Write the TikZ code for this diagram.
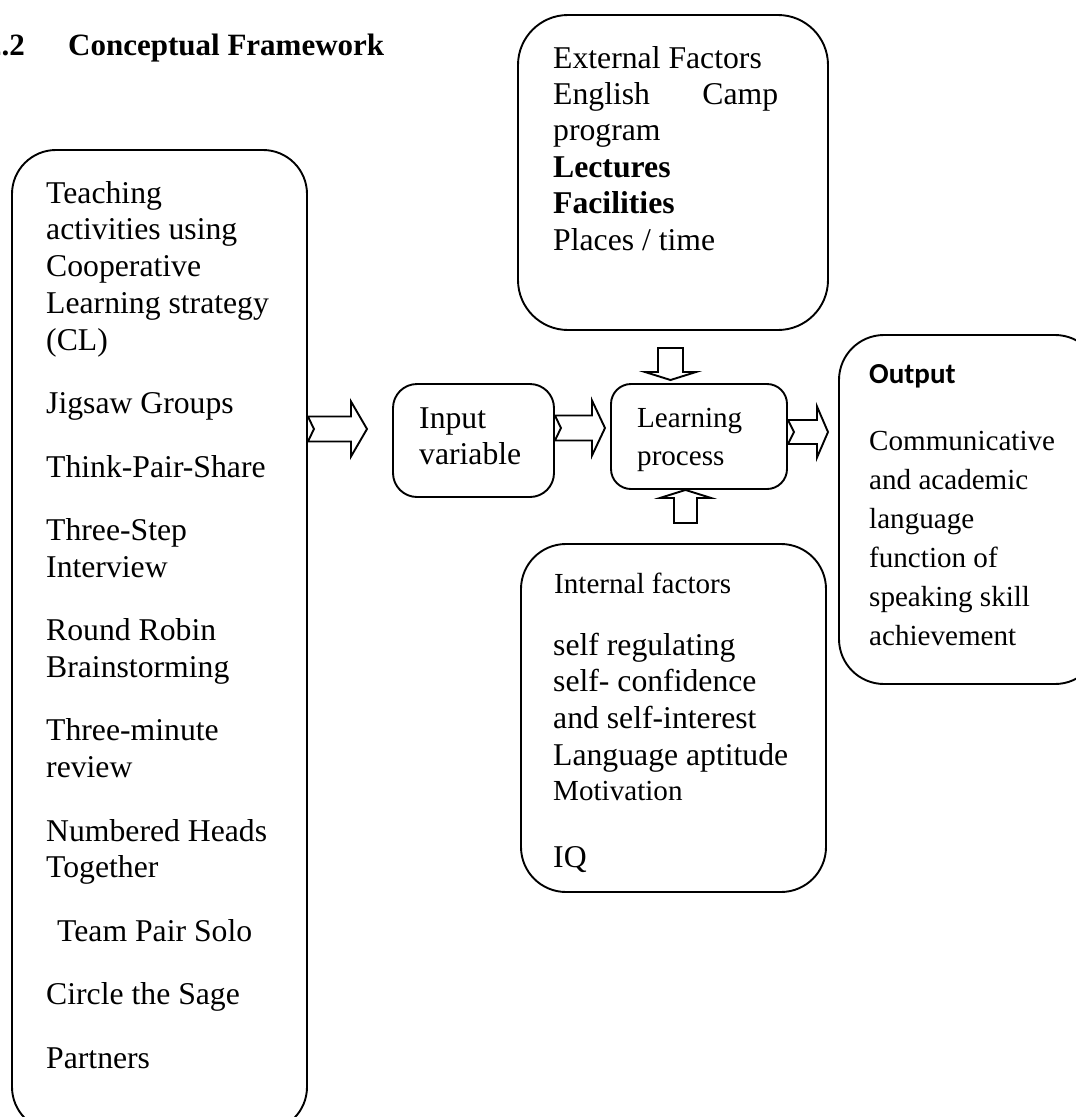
\documentclass[tikz,border=0pt]{standalone}
\usepackage{fontspec}
\setmainfont{Liberation Serif}
\newfontfamily\calfont{Carlito}
\usetikzlibrary{calc}
\tikzset{
  frame/.style={draw, line width=1.9pt, rectangle, inner sep=0pt},
  txt/.style={anchor=base west, inner sep=0pt, align=left, font=\fontsize{31.7}{36.8}\selectfont},
  smalltxt/.style={anchor=base west, inner sep=0pt, align=left, font=\fontsize{29.1}{38}\selectfont},
  titletxt/.style={anchor=base west, inner sep=0pt, font=\fontsize{31}{36}\selectfont\bfseries},
  barrow/.style={draw, line width=1.9pt, line join=miter, fill=white},
}
\newcommand{\hblockarrow}[5]{%
  \draw[barrow] ($(#1)+(0,-#3)$) -- ($(#2)+(-#5,-#3)$) -- ($(#2)+(-#5,-#4)$) -- (#2)
    -- ($(#2)+(-#5,#4)$) -- ($(#2)+(-#5,#3)$) -- ($(#1)+(0,#3)$) -- ($(#1)+(6,0)$) -- cycle;}
\newcommand{\vblockarrow}[5]{%
  \draw[barrow] ($(#1)+(-#3,0)$) -- ($(#2)+(-#3,#5)$) -- ($(#2)+(-#4,#5)$) -- (#2)
    -- ($(#2)+(#4,#5)$) -- ($(#2)+(#3,#5)$) -- ($(#1)+(#3,0)$) -- cycle;}
\begin{document}
\begin{tikzpicture}[x=1pt,y=-1pt]
\useasboundingbox (0,0) rectangle (1076,1117);
\fill[white] (0,0) rectangle (1076,1117);

% title
\node[titletxt, anchor=base east] (tnum) at (25,55) {2.2};
\node[titletxt] (title) at (68,55) {Conceptual Framework};

% boxes
\node[frame, minimum width=295pt, minimum height=981pt, rounded corners=44pt] (cl) at (159.5,640.5) {};
\node[frame, minimum width=310pt, minimum height=315pt, rounded corners=50pt] (ext) at (673,172.5) {};
\node[frame, minimum width=161pt, minimum height=113pt, rounded corners=24pt] (inp) at (473.5,440.5) {};
\node[frame, minimum width=176pt, minimum height=105pt, rounded corners=20pt] (lp) at (699,436.5) {};
\node[frame, minimum width=261pt, minimum height=349pt, rounded corners=45pt] (out) at (969.5,509.5) {};
\node[frame, minimum width=305pt, minimum height=348pt, rounded corners=45pt] (int) at (673.5,718) {};

% texts (multi-line nodes are anchored at the baseline of their last line)
\node[txt] (cltext) at (46,1068) {Teaching\\activities using\\Cooperative\\Learning strategy\\(CL)\\[26.6pt]%
Jigsaw Groups\\[26.6pt]Think-Pair-Share\\[26.6pt]Three-Step\\Interview\\[26.6pt]%
Round Robin\\Brainstorming\\[26.6pt]Three-minute\\review\\[26.6pt]Numbered Heads\\Together\\[26.6pt]%
\hspace*{11pt}Team Pair Solo\\[26.6pt]Circle the Sage\\[26.6pt]Partners};

\node[txt, font=\fontsize{31.7}{36.4}\selectfont] (exttext) at (553,250) {External Factors\\\makebox[225pt][l]{English\hfill Camp}\\program\\\textbf{Lectures}\\\textbf{Facilities}\\Places / time};

\node[txt, font=\fontsize{31.7}{35.5}\selectfont] (inptext) at (419,464) {Input\\variable};
\node[smalltxt] (lptext) at (637,465) {Learning\\process};

\node[anchor=base west, inner sep=0pt, font=\fontsize{29}{38}\selectfont\calfont\bfseries] (outhead) at (869,383) {Output};
\node[smalltxt, font=\fontsize{29.1}{39}\selectfont] (outtext) at (869,645) {Communicative\\and academic\\language\\function of\\speaking skill\\achievement};

\node[smalltxt] (inthead) at (554,593) {Internal factors};
\node[txt] (inttext) at (553,765.4) {self regulating\\self- confidence\\and self-interest\\Language aptitude};
\node[smalltxt] (intmot) at (553,800) {Motivation};
\node[txt] (intiq) at (553,867) {IQ};

% arrows
\coordinate (aAt) at (cl.east |- 0,429);
\coordinate (aAp) at (367,429);
\coordinate (aBt) at (inp.east |- 0,428);
\coordinate (aBp) at (605,428);
\coordinate (aCt) at (lp.east |- 0,432);
\coordinate (aCp) at (828,432);
\coordinate (dT) at (670.5,348);
\coordinate (dP) at (670.5,380);
\coordinate (uT) at (685.5,523);
\coordinate (uP) at (lp.south -| 685.5,0);

\hblockarrow{aAt}{aAp}{12.5}{27.5}{16}
\hblockarrow{aBt}{aBp}{12.5}{27.5}{13}
\hblockarrow{aCt}{aCp}{12}{25.5}{11}
\vblockarrow{dT}{dP}{12.5}{25.5}{-8}
\vblockarrow{uT}{uP}{11.5}{25.5}{8}
\end{tikzpicture}
\end{document}
